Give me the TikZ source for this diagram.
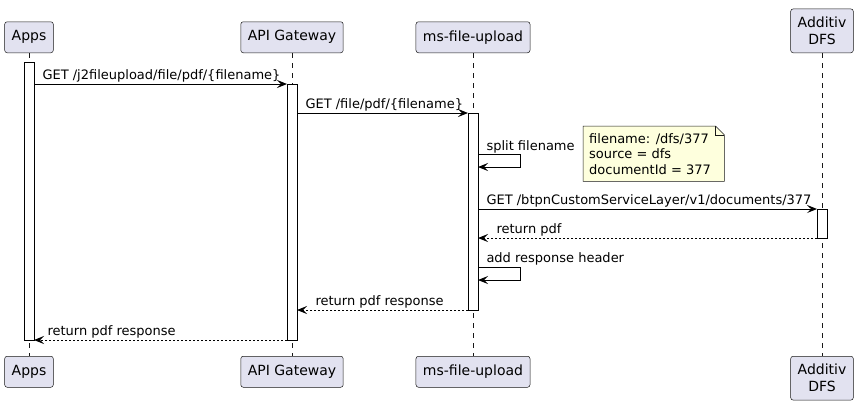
\documentclass[tikz,border=0pt]{standalone}
\usepackage{fontspec}
\setmainfont{DejaVu Sans}
\usetikzlibrary{arrows.meta,positioning}

\definecolor{partfill}{HTML}{E2E2F0}
\definecolor{notefill}{HTML}{FEFFDD}
\definecolor{umlline}{HTML}{181818}

\begin{document}
\begin{tikzpicture}[x=1pt,y=-1pt,>={Stealth[length=10pt,width=8pt,inset=4pt]}]
\tikzstyle{part}=[draw=umlline,fill=partfill,rounded corners=2.5pt,line width=0.5pt,font=\fontsize{14}{17}\selectfont,inner xsep=7pt,inner ysep=8pt,minimum height=31pt,align=center]
\tikzstyle{bar}=[draw=black,fill=white,line width=1pt,minimum width=10pt,inner sep=0pt,outer sep=0pt]
\tikzstyle{life}=[draw=umlline,line width=0.5pt,dash pattern=on 5pt off 5pt]
\tikzstyle{msg}=[->,line width=1pt]
\tikzstyle{ret}=[->,line width=1pt,dash pattern=on 2pt off 2pt]
\tikzstyle{lbl}=[anchor=base west,inner sep=0pt,font=\fontsize{13}{15}\selectfont]

\useasboundingbox (0,0) rectangle (858,408);

% participants
\node[part,anchor=south] (A) at (29,53) {Apps};
\node[part,anchor=south] (G) at (292,53) {API Gateway};
\node[part,anchor=south] (M) at (473,53) {ms-file-upload};
\node[part,anchor=south] (D) at (822,53) {Additiv\\DFS};
\node[part,below=303pt of A] (A2) {Apps};
\node[part,below=303pt of G] (G2) {API Gateway};
\node[part,below=303pt of M] (M2) {ms-file-upload};
\node[part,below=303pt of D] (D2) {Additiv\\DFS};

\draw[life] (A) -- (A2);
\draw[life] (G) -- (G2);
\draw[life] (M) -- (M2);
\draw[life] (D) -- (D2);

% activations
\node[bar,minimum height=278pt,below=9pt of A] (a1) {};
\node[bar,minimum height=256pt,below=31pt of G] (g1) {};
\node[bar,minimum height=197pt,below=60pt of M] (m1) {};
\node[bar,minimum height=29pt,below=156pt of D] (d1) {};

\coordinate (s1) at (0,154);
\coordinate (s2) at (0,267);

% messages
\draw[msg] (a1.east |- g1.north) -- (g1.north west) node[lbl,at start,xshift=8pt,yshift=5pt] {GET /j2fileupload/file/pdf/\{filename\}};
\draw[msg] (g1.east |- m1.north) -- (m1.north west) node[lbl,at start,xshift=8pt,yshift=5pt] {GET /file/pdf/\{filename\}};
\draw[msg] (m1.east |- s1) node[lbl,xshift=8pt,yshift=4pt] {split filename} -- ++(42,0) -- ++(0,13) -- ++(-42,0);
\draw[msg] (m1.east |- d1.north) -- (d1.north west) node[lbl,at start,xshift=8pt,yshift=5pt] {GET /btpnCustomServiceLayer/v1/documents/377};
\draw[ret] (d1.south west) -- (m1.east |- d1.south) node[lbl,at end,xshift=18pt,yshift=5pt] {return pdf};
\draw[msg] (m1.east |- s2) node[lbl,xshift=8pt,yshift=5pt] {add response header} -- ++(42,0) -- ++(0,13) -- ++(-42,0);
\draw[ret] (m1.south west) -- (g1.east |- m1.south) node[lbl,at end,xshift=18pt,yshift=5pt] {return pdf response};
\draw[ret] (g1.south west) -- (a1.south east) node[lbl,at end,xshift=13pt,yshift=5pt] {return pdf response};

% note
\node[anchor=north west,minimum width=141pt,minimum height=55pt,inner sep=0pt] (N) at (583,126) {};
\draw[draw=umlline,fill=notefill,line width=0.5pt] (N.south west) -- (N.north west) -- ([xshift=-9pt]N.north east) -- ([yshift=-9pt]N.north east) -- (N.south east) -- cycle;
\draw[draw=umlline,line width=0.5pt] ([xshift=-9pt]N.north east) |- ([yshift=-9pt]N.north east);
\node[lbl,anchor=west,align=left,font=\fontsize{13}{15.5}\selectfont] (Nt) at ([xshift=6pt]N.west) {filename: /dfs/377\\source = dfs\\documentId = 377};
\end{tikzpicture}
\end{document}
